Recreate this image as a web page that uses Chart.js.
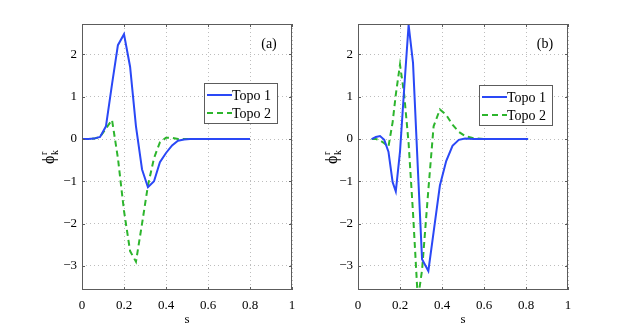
<!DOCTYPE html>
<html>
<head>
<meta charset="utf-8">
<script src="https://cdn.jsdelivr.net/npm/chart.js@4/dist/chart.umd.min.js"></script>
<style>
  html, body { margin: 0; padding: 0; background: #fff; }
  #wrap { position: relative; width: 628px; height: 327px; }
  canvas { position: absolute; top: 0; }
</style>
</head>
<body>
<div id="wrap">
  <canvas id="chartA" width="314" height="327" style="left:0"></canvas>
  <canvas id="chartB" width="314" height="327" style="left:314px"></canvas>
</div>
<script>
// panel (a) samples
const sA = [0, 0.029, 0.057, 0.086, 0.114, 0.143, 0.171, 0.2, 0.229, 0.257, 0.286, 0.314, 0.343, 0.371, 0.4,
            0.429, 0.457, 0.486, 0.514, 0.543, 0.571, 0.6, 0.629, 0.657, 0.686, 0.714, 0.743, 0.771, 0.8];
const topo1A = [0, 0, 0.01, 0.05, 0.3, 1.3, 2.22, 2.48, 1.71, 0.3, -0.72, -1.14, -1.0, -0.55, -0.33,
                -0.15, -0.04, -0.01, 0, 0, 0, 0, 0, 0, 0, 0, 0, 0, 0];
const topo2A = [0, 0, 0.01, 0.05, 0.25, 0.45, -0.45, -1.7, -2.65, -2.9, -2.0, -1.1, -0.45, -0.08, 0.03,
                0.03, 0, 0, 0, 0, 0, 0, 0, 0, 0, 0, 0, 0, 0];

// panel (b) samples
const sB = [0.065, 0.085, 0.105, 0.125, 0.145, 0.165, 0.18, 0.2, 0.22, 0.241, 0.262, 0.285, 0.305, 0.335,
            0.36, 0.39, 0.42, 0.45, 0.48, 0.51, 0.55, 0.6, 0.7, 0.81];
const topo1B = [0, 0.05, 0.07, -0.02, -0.3, -1.02, -1.24, -0.3, 1.2, 2.7, 1.8, -0.7, -2.84, -3.12,
                -2.2, -1.1, -0.52, -0.16, -0.02, 0.01, 0, 0, 0, 0];
const topo2B = [0, 0, -0.03, -0.1, -0.18, 0.4, 1.05, 1.76, 1.05, -0.1, -1.75, -3.8, -3.1, -1.2,
                0.3, 0.7, 0.57, 0.34, 0.17, 0.07, 0.02, 0, 0, 0];

const xTicks = [0, 0.2, 0.4, 0.6, 0.8, 1];
const yTicks = [-3, -2, -1, 0, 1, 2];
const seriesNames = ['Topo 1', 'Topo 2'];

const SERIF = "'Liberation Serif', 'Times New Roman', serif";
const BLUE = '#2a48f6';
const GREEN = '#2db52d';
const BOX = '#5c5c5c';

function fmt(v) {
  return v < 0 ? '\u2212' + Math.abs(v) : String(v);
}

// axes box, inward ticks, legend, panel tag and axis titles (MATLAB look)
const decorations = {
  id: 'decorations',
  afterDraw(chart, args, o) {
    const { ctx, chartArea: a, scales } = chart;
    ctx.save();
    ctx.strokeStyle = BOX;
    ctx.lineWidth = 1;
    ctx.strokeRect(a.left + 0.5, a.top + 0.5, a.right - a.left - 1, a.bottom - a.top - 1);

    ctx.beginPath();
    xTicks.forEach(v => {
      const px = Math.round(scales.x.getPixelForValue(v)) + 0.5;
      ctx.moveTo(px, a.bottom); ctx.lineTo(px, a.bottom - 3);
      ctx.moveTo(px, a.top); ctx.lineTo(px, a.top + 3);
    });
    yTicks.forEach(v => {
      const py = Math.round(scales.y.getPixelForValue(v)) + 0.5;
      ctx.moveTo(a.left, py); ctx.lineTo(a.left + 3, py);
      ctx.moveTo(a.right, py); ctx.lineTo(a.right - 3, py);
    });
    ctx.stroke();

    // legend
    const L = o.legend;
    ctx.fillStyle = '#fff';
    ctx.fillRect(L.x, L.y, L.w, L.h);
    ctx.strokeStyle = BOX;
    ctx.strokeRect(L.x + 0.5, L.y + 0.5, L.w, L.h);
    const rows = [L.y + 12, L.y + 30];
    ctx.lineWidth = 2;
    chart.data.datasets.forEach((ds, i) => {
      ctx.strokeStyle = ds.borderColor;
      ctx.setLineDash(ds.borderDash || []);
      ctx.beginPath();
      ctx.moveTo(L.x + 3, rows[i]);
      ctx.lineTo(L.x + 28, rows[i]);
      ctx.stroke();
    });
    ctx.setLineDash([]);
    ctx.fillStyle = '#000';
    ctx.font = '14px ' + SERIF;
    ctx.textBaseline = 'middle';
    ctx.textAlign = 'left';
    chart.data.datasets.forEach((ds, i) => ctx.fillText(ds.label, L.x + 28, rows[i] + 1));

    // panel tag
    ctx.textAlign = 'center';
    ctx.fillText(o.tag.text, o.tag.x, o.tag.y);

    // x title
    ctx.font = '13px ' + SERIF;
    ctx.fillText('s', (a.left + a.right) / 2, 320);

    // y title: phi with sub k and sup r, rotated
    ctx.translate(o.ylab.x, o.ylab.y);
    ctx.rotate(-Math.PI / 2);
    ctx.textAlign = 'left';
    ctx.font = '16px ' + SERIF;
    ctx.fillText('\u03d5', -8, 0);
    ctx.font = '10px ' + SERIF;
    ctx.fillText('r', 1, -6);
    ctx.fillText('k', 1, 5);
    ctx.restore();
  }
};

function makeChart(id, s, t1, t2, cfg) {
  const line = (label, vals, color, dash) => ({
    label,
    data: s.map((x, i) => ({ x, y: vals[i] })),
    borderColor: color,
    borderWidth: 2,
    borderDash: dash,
    pointRadius: 0,
    tension: 0,
    fill: false
  });
  const tickFont = { family: SERIF, size: 13 };
  return new Chart(document.getElementById(id), {
    type: 'line',
    data: {
      datasets: [
        line(seriesNames[0], t1, BLUE, []),
        line(seriesNames[1], t2, GREEN, [6, 4])
      ]
    },
    options: {
      responsive: false,
      animation: false,
      layout: { padding: { left: 0, top: 24, right: cfg.padRight, bottom: 0 } },
      plugins: {
        legend: { display: false },
        tooltip: { enabled: false },
        decorations: cfg
      },
      scales: {
        x: {
          type: 'linear', min: 0, max: 1,
          afterBuildTicks: sc => { sc.ticks = xTicks.map(v => ({ value: v })); },
          afterFit: sc => { sc.height = 37; },
          grid: { color: '#bdbdbd', lineWidth: 1, drawTicks: false },
          border: { display: false, dash: [1, 3] },
          ticks: { padding: 8, color: '#000', font: tickFont, autoSkip: false, maxRotation: 0, callback: v => fmt(v) }
        },
        y: {
          type: 'linear', min: -3.57, max: 2.72,
          afterBuildTicks: sc => { sc.ticks = yTicks.map(v => ({ value: v })); },
          afterFit: sc => { sc.width = cfg.yWidth; },
          grid: { color: '#bdbdbd', lineWidth: 1, drawTicks: false },
          border: { display: false, dash: [1, 3] },
          ticks: { padding: 5, color: '#000', font: tickFont, autoSkip: false, callback: v => fmt(v) }
        }
      }
    },
    plugins: [decorations]
  });
}

makeChart('chartA', sA, topo1A, topo2A, {
  yWidth: 82, padRight: 22,
  legend: { x: 204, y: 83, w: 73, h: 40 },
  tag: { text: '(a)', x: 269, y: 44 },
  ylab: { x: 50, y: 156 }
});

makeChart('chartB', sB, topo1B, topo2B, {
  yWidth: 44, padRight: 60,
  legend: { x: 165, y: 85, w: 73, h: 40 },
  tag: { text: '(b)', x: 231, y: 44 },
  ylab: { x: 19, y: 156 }
});
</script>
</body>
</html>
